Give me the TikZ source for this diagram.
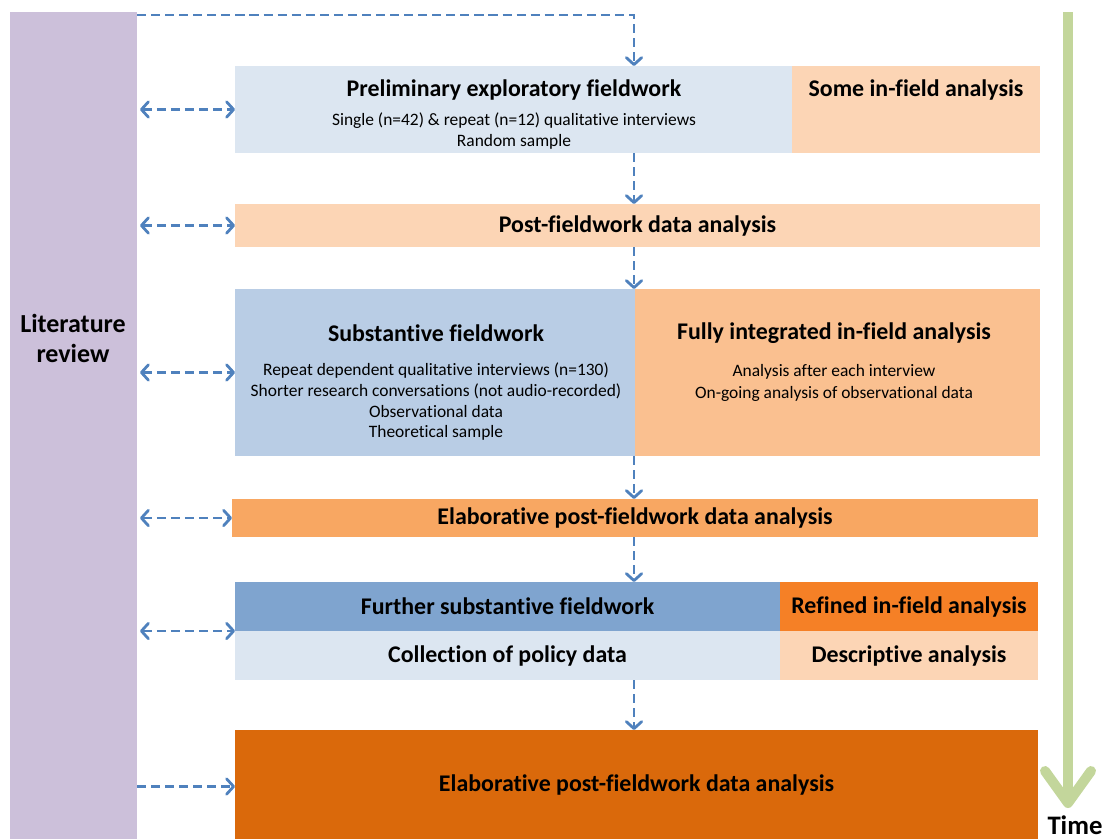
\documentclass[tikz,border=0pt]{standalone}
\usepackage{fontspec}
\setmainfont{Carlito}[Ligatures=NoCommon]
\usetikzlibrary{arrows.meta}

\definecolor{litpurple}{HTML}{CCC0DA}
\definecolor{paleblue}{HTML}{DCE6F1}
\definecolor{midblue}{HTML}{B9CDE5}
\definecolor{deepblue}{HTML}{7FA4CF}
\definecolor{peach}{HTML}{FCD5B5}
\definecolor{apricot}{HTML}{FAC090}
\definecolor{tangerine}{HTML}{F8A762}
\definecolor{brightorange}{HTML}{F58026}
\definecolor{burntorange}{HTML}{DA690B}
\definecolor{linkblue}{HTML}{4F81BD}
\definecolor{timegreen}{HTML}{C3D69B}

\begin{document}
\begin{tikzpicture}[
  >={Straight Barb[length=5pt,width=11pt,round]},
  box/.style={rectangle, inner sep=0pt, outer sep=0pt, anchor=north west},
  head/.style={font=\fontsize{17}{20}\selectfont\bfseries},
  body/.style={font=\fontsize{12.4}{15.6}\selectfont, align=center},
  link/.style={draw=linkblue, line width=2pt, dash pattern=on 6.5pt off 3.5pt}
  ]
  \useasboundingbox (0,0) rectangle (27.725,-20.975);

  % Literature review column
  \node[box, fill=litpurple, minimum width=3.175cm, minimum height=20.675cm] (lit) at (0.25,-0.3) {};
  \node[font=\fontsize{18.5}{21.3}\selectfont\bfseries, align=center] (littext) at (1.825,-8.45) {Literature\\review};

  % Stages of fieldwork and analysis
  \node[box, fill=paleblue, minimum width=13.925cm, minimum height=2.175cm] (pre) at (5.875,-1.65) {};
  \node[box, fill=peach, minimum width=6.2cm, minimum height=2.175cm] (prein) at (19.8,-1.65) {};
  \node[head] (pretitle) at (12.85,-2.25) {Preliminary exploratory fieldwork};
  \node[body] (prebody) at (12.85,-3.275) {Single (n=42) \& repeat (n=12) qualitative interviews\\Random sample};
  \node[head] (preintitle) at (22.9,-2.25) {Some in-field analysis};

  \node[box, head, fill=peach, minimum width=20.125cm, minimum height=1.075cm] (post) at (5.875,-5.1) {Post-fieldwork data analysis};

  \node[box, fill=midblue, minimum width=10cm, minimum height=4.175cm] (sub) at (5.875,-7.225) {};
  \node[box, fill=apricot, minimum width=10.125cm, minimum height=4.175cm] (subin) at (15.875,-7.225) {};
  \node[head] (subtitle) at (10.9,-8.325) {Substantive fieldwork};
  \node[body, font=\fontsize{12.4}{14.9}\selectfont] (subbody) at (10.9,-10.04) {Repeat dependent qualitative interviews (n=130)\\Shorter research conversations (not audio-recorded)\\Observational data\\Theoretical sample};
  \node[head] (subintitle) at (20.85,-8.325) {Fully integrated in-field analysis};
  \node[body] (subinbody) at (20.85,-9.575) {Analysis after each interview\\On-going analysis of observational data};

  \node[box, head, fill=tangerine, minimum width=20.15cm, minimum height=0.95cm] (elab) at (5.8,-12.475) {Elaborative post-fieldwork data analysis};

  \node[box, head, fill=deepblue, minimum width=13.625cm, minimum height=1.225cm] (further) at (5.875,-14.55) {Further substantive fieldwork};
  \node[box, head, fill=brightorange, minimum width=6.45cm, minimum height=1.225cm] (refined) at (19.5,-14.55) {Refined in-field analysis};
  \node[box, head, fill=paleblue, minimum width=13.625cm, minimum height=1.225cm] (policy) at (5.875,-15.775) {Collection of policy data};
  \node[box, head, fill=peach, minimum width=6.45cm, minimum height=1.225cm] (descr) at (19.5,-15.775) {Descriptive analysis};

  \node[box, head, fill=burntorange, minimum width=20.075cm, minimum height=2.725cm] (final) at (5.875,-18.25) {Elaborative post-fieldwork data analysis};

  % Flow down the stages
  \coordinate (flow) at (15.85,0);
  \draw[link, ->] ([yshift=-0.075cm]lit.north east) -| (pre.north -| flow);
  \draw[link, ->] (pre.south -| flow) -- (post.north -| flow);
  \draw[link, ->] (post.south -| flow) -- (sub.north -| flow);
  \draw[link, ->] (sub.south -| flow) -- (elab.north -| flow);
  \draw[link, ->] (elab.south -| flow) -- (further.north -| flow);
  \draw[link, ->] (policy.south -| flow) -- (final.north -| flow);

  % Links back to the literature
  \draw[link, <->] ([xshift=0.075cm]lit.east |- pre.west) -- (pre.west);
  \draw[link, <->] ([xshift=0.075cm]lit.east |- post.west) -- (post.west);
  \draw[link, <->] ([xshift=0.075cm]lit.east |- sub.west) -- (sub.west);
  \draw[link, <->] ([xshift=0.075cm]lit.east |- elab.west) -- (elab.west);
  \draw[link, <->] ([xshift=0.075cm]lit.east |- further.south west) -- (further.south west);
  \draw[link, ->] ([yshift=-0.05cm]lit.east |- final.west) -- ([yshift=-0.05cm]final.west);

  % Time axis
  \coordinate (timetop) at (26.7,-0.3);
  \coordinate (timeend) at (26.7,-20.2);
  \node[font=\fontsize{19}{22}\selectfont\bfseries, anchor=base] (time) at (26.875,-20.85) {Time};
  \draw[timegreen, line width=0.25cm, -{Straight Barb[length=0.8cm,width=1.15cm,round]}] (timetop) -- (timeend);
\end{tikzpicture}
\end{document}
